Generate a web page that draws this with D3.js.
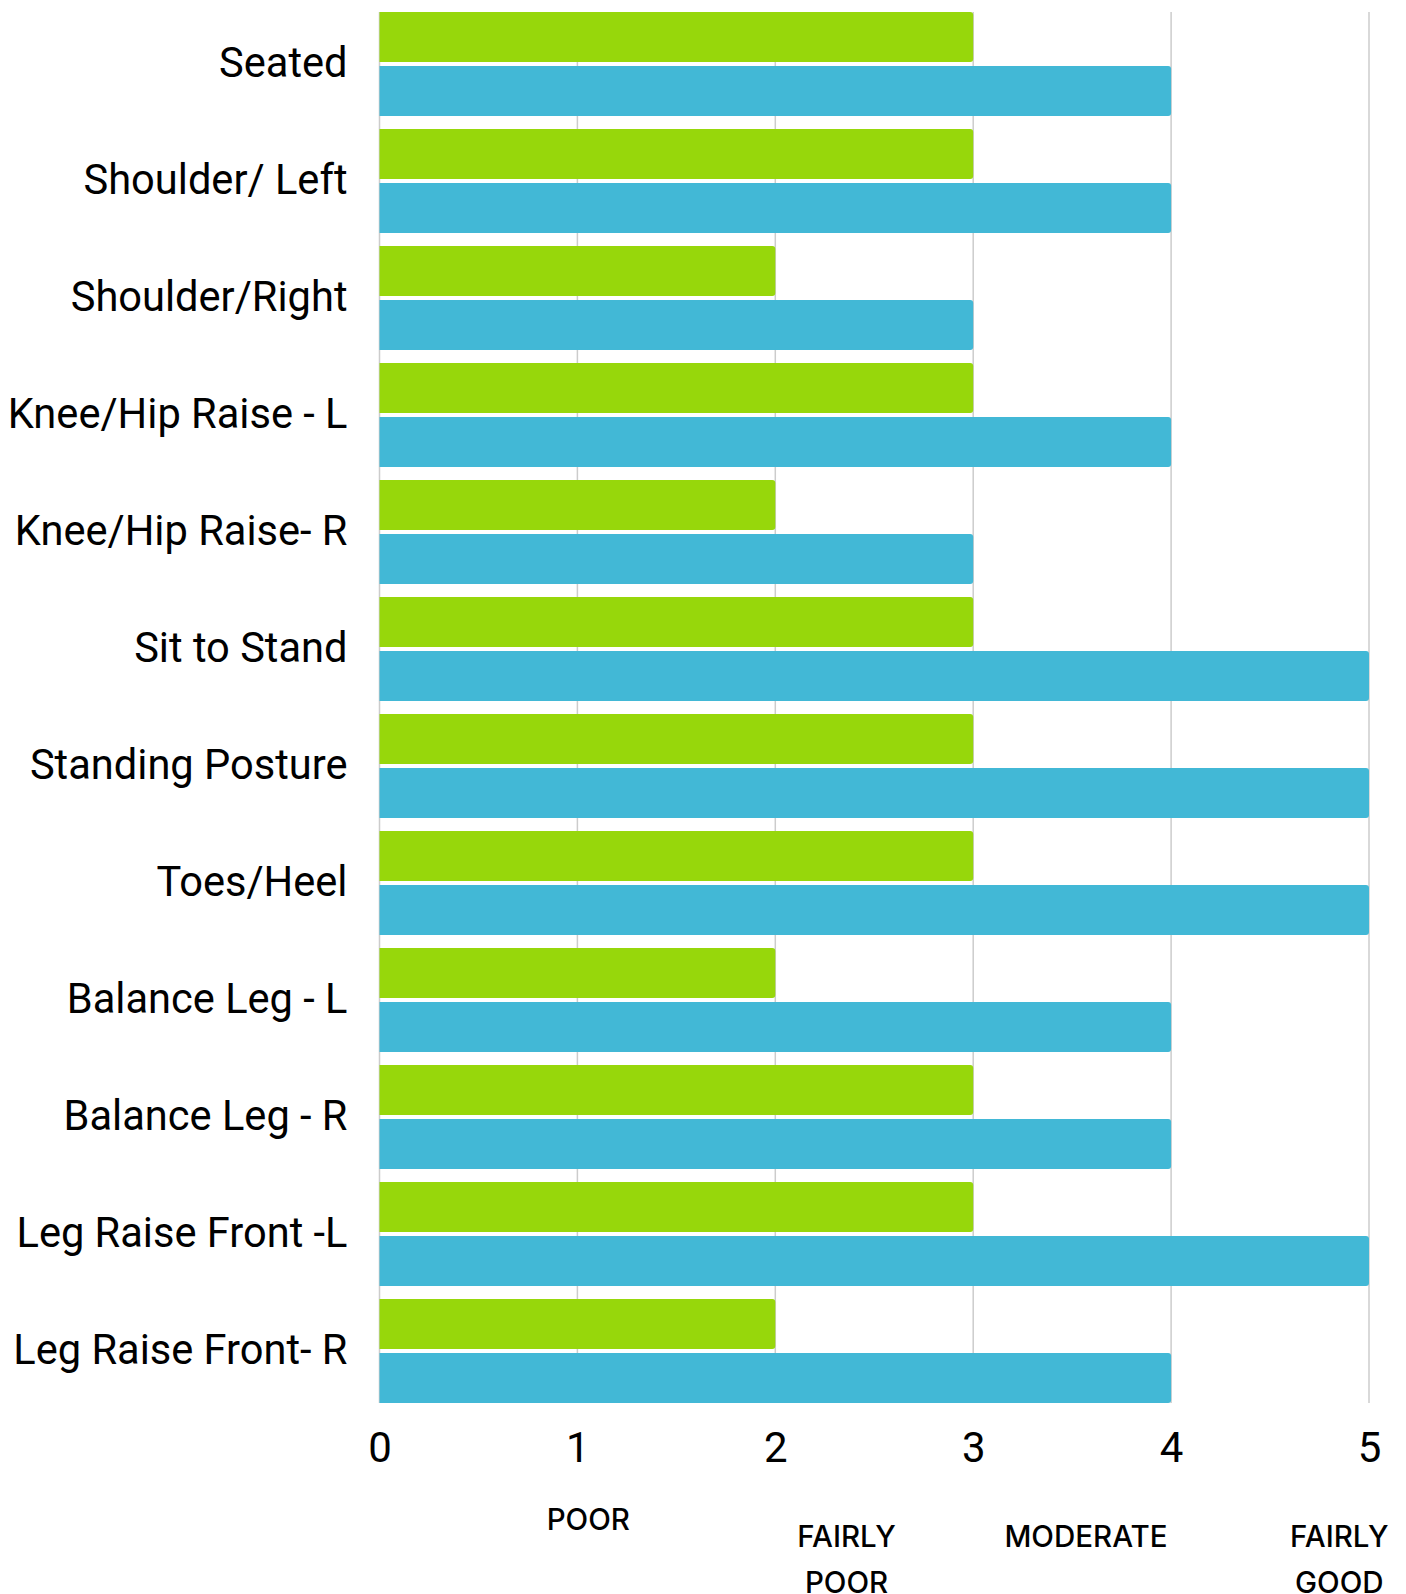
<!DOCTYPE html>
<html>
<head>
<meta charset="utf-8">
<script src="https://cdn.jsdelivr.net/npm/d3@7"></script>
<style>
  body { margin: 0; background: #fff; }
  svg { display: block; }
</style>
</head>
<body>
<div id="chart"></div>
<script>
// chart data
const categories = ["Seated", "Shoulder/ Left", "Shoulder/Right", "Knee/Hip Raise - L",
    "Knee/Hip Raise- R", "Sit to Stand", "Standing Posture", "Toes/Heel",
    "Balance Leg - L", "Balance Leg - R", "Leg Raise Front -L", "Leg Raise Front- R"];
const seriesNames = ["before", "after"];
const beforeValues = [3, 3, 2, 3, 2, 3, 3, 3, 2, 3, 3, 2];
const afterValues = [4, 4, 3, 4, 3, 5, 5, 5, 4, 4, 5, 4];
const xTicks = [0, 1, 2, 3, 4, 5];
const ratingLabels = [["POOR"], ["FAIRLY", "POOR"], ["MODERATE"], ["FAIRLY", "GOOD"]];

const colors = { before: "#97d70b", after: "#42b8d6" };

document.addEventListener('DOMContentLoaded', function() {
    const W = 1406, H = 1594;
    const left = 379.5, right = 1369;

    const svg = d3.select("#chart")
        .append("svg")
        .attr("width", W)
        .attr("height", H);

    const x = d3.scaleLinear()
        .domain([0, 5])
        .range([left, right]);

    const y = d3.scaleBand()
        .domain(categories)
        .range([5.5, 1409.5])
        .paddingInner(13 / 117)
        .paddingOuter(13 / 234);

    const ySub = d3.scaleBand()
        .domain(seriesNames)
        .range([0, y.bandwidth()])
        .paddingInner(4 / 52);

    const rows = categories.map((c, i) => ({
        cat: c,
        before: beforeValues[i],
        after: afterValues[i]
    }));

    // gridlines (behind bars)
    const gridTop = y(categories[0]);
    const gridBottom = y(categories[categories.length - 1]) + y.bandwidth();
    svg.append("g")
        .selectAll("line")
        .data(xTicks)
        .enter()
        .append("line")
        .attr("x1", d => x(d))
        .attr("x2", d => x(d))
        .attr("y1", gridTop)
        .attr("y2", gridBottom)
        .attr("stroke", "#cccccc")
        .attr("stroke-width", 1.5);

    // bar path with rounded right end
    function barPath(x0, x1, y0, h, r) {
        r = Math.min(r, (x1 - x0) / 2);
        return `M${x0},${y0}H${x1 - r}Q${x1},${y0} ${x1},${y0 + r}` +
            `V${y0 + h - r}Q${x1},${y0 + h} ${x1 - r},${y0 + h}H${x0}Z`;
    }

    const groups = svg.append("g")
        .selectAll("g")
        .data(rows)
        .enter()
        .append("g")
        .attr("transform", d => `translate(0,${y(d.cat)})`);

    groups.selectAll("path")
        .data(d => seriesNames.map(s => ({ key: s, value: d[s] })))
        .enter()
        .append("path")
        .attr("d", d => barPath(x(0), x(d.value), ySub(d.key), ySub.bandwidth(), 3))
        .attr("fill", d => colors[d.key]);

    // category labels
    const yAxis = svg.append("g")
        .attr("transform", `translate(${left},0)`)
        .call(d3.axisLeft(y).tickSize(0).tickPadding(32));
    yAxis.select(".domain").remove();
    yAxis.selectAll("text")
        .attr("font-family", "Roboto, sans-serif")
        .attr("font-size", 41.6)
        .attr("fill", "#000")
        .attr("dy", "0.32em");

    // x tick labels
    const xAxis = svg.append("g")
        .attr("transform", `translate(0,${gridBottom})`)
        .call(d3.axisBottom(x).tickValues(xTicks).tickSize(0).tickFormat(d3.format("d")));
    xAxis.select(".domain").remove();
    xAxis.selectAll("text")
        .attr("font-family", "Roboto, sans-serif")
        .attr("font-size", 42)
        .attr("fill", "#000")
        .attr("y", 59)
        .attr("dy", 0);

    // rating labels under the axis
    const ratingX = [1.055, 2.36, 3.57, 4.85];
    const ratingBaseline = [1530, 1547, 1547, 1547];
    const rl = svg.append("g")
        .selectAll("text")
        .data(ratingLabels)
        .enter()
        .append("text")
        .attr("text-anchor", "middle")
        .attr("font-family", "Inter, 'Noto Sans', sans-serif")
        .attr("font-weight", 500)
        .attr("font-size", 29.5)
        .attr("fill", "#000")
        .attr("x", (d, i) => x(ratingX[i]))
        .attr("y", (d, i) => ratingBaseline[i]);
    rl.selectAll("tspan")
        .data(d => d)
        .enter()
        .append("tspan")
        .attr("x", function() { return d3.select(this.parentNode).attr("x"); })
        .attr("dy", (d, i) => i === 0 ? 0 : 46)
        .text(d => d);
});
</script>
</body>
</html>
